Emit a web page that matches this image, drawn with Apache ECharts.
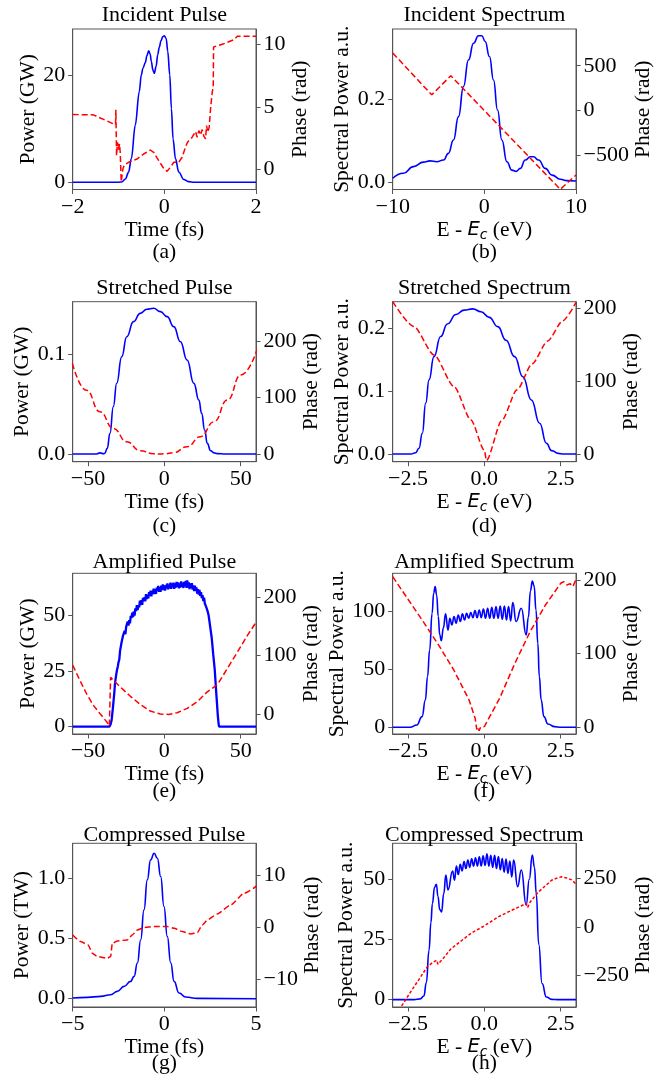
<!DOCTYPE html>
<html><head><meta charset="utf-8">
<script src="https://cdn.jsdelivr.net/npm/echarts@6/dist/echarts.min.js"></script>
<style>html,body{margin:0;padding:0;background:#fff;}#c{width:662px;height:1082px;}</style>
</head><body><div id="c"></div>
<script>
// ---------- (a) Incident Pulse ----------
const aPulseT = [-2, -1.0, -0.93, -0.85, -0.78, -0.72, -0.635, -0.547, -0.503, -0.467, -0.415, -0.38, -0.342, -0.31, -0.284, -0.25, -0.218, -0.18, -0.145, -0.11, -0.072, -0.035, 0, 0.04, 0.074, 0.118, 0.154, 0.19, 0.242, 0.315, 0.424, 0.534, 0.65, 2];
const aPulseP = [0, 0, 0.05, 0.6, 1.9, 4.4, 10.6, 16.9, 20, 21.25, 22.3, 23.6, 24.5, 23.9, 22.5, 20.9, 20.3, 21.6, 23.75, 25.2, 26.4, 27.1, 27.3, 26.8, 24.4, 20, 13.75, 8.1, 4.4, 1.9, 0.5, 0.1, 0, 0];
const aPhaseT = [-2, -1.547, -1.109, -1.065, -1.058, -1.043, -1.022, -1.0, -0.978, -0.963, -0.941, -0.905, -0.875, -0.78, -0.598, -0.452, -0.306, -0.233, -0.123, -0.014, 0.059, 0.132, 0.205, 0.315, 0.387, 0.461, 0.497, 0.534, 0.57, 0.607, 0.643, 0.68, 0.716, 0.753, 0.789, 0.826, 0.862, 0.899, 0.921, 0.95, 0.979, 1.008, 1.045, 1.067, 1.074, 1.3, 1.52, 1.593, 2.0];
const aPhaseV = [4.4, 4.37, 3.65, 3.6, 4.77, 1.12, 2.19, 1.6, 2.05, 1.39, -0.96, 0.05, 0.37, 0.59, 0.85, 1.25, 1.57, 1.39, 0.72, 0.11, -0.13, 0.19, 0.59, 0.59, 0.99, 1.79, 2.13, 2.32, 2.19, 2.59, 2.45, 3.04, 2.59, 3.12, 2.77, 3.2, 2.67, 2.45, 3.52, 2.99, 3.39, 4.85, 6.19, 6.59, 9.79, 10.05, 10.37, 10.64, 10.64];

// ---------- (b) Incident Spectrum ----------
const bSpecE = [-10, -8.83, -7.74, -6.65, -5.92, -5.19, -4.46, -3.92, -3.37, -2.82, -2.28, -1.73, -1.18, -0.64, -0.27, 0.09, 0.56, 1.0, 1.44, 1.91, 2.46, 3.0, 3.48, 3.92, 4.46, 5.01, 5.37, 5.92, 6.65, 7.38, 8.29, 9.02, 10];
const bSpecS = [0.0104, 0.0224, 0.0384, 0.049, 0.052, 0.050, 0.054, 0.070, 0.102, 0.158, 0.230, 0.294, 0.334, 0.352, 0.352, 0.338, 0.302, 0.246, 0.174, 0.102, 0.050, 0.030, 0.027, 0.034, 0.054, 0.062, 0.062, 0.054, 0.034, 0.018, 0.008, 0.0048, 0.004];
const bPhaseE = [-10, -5.74, -3.66, 8.29, 10];
const bPhaseV = [642, 175, 388, -880, -720];

// ---------- (c) Stretched Pulse ----------
const cPulseT = [-60, -45, -42, -40, -39, -37.4, -35.6, -33.4, -31.2, -27.9, -24.6, -20.2, -15.8, -11.4, -7, -2.6, 1.8, 6.2, 10.5, 14.9, 19.3, 22.6, 24.4, 26.4, 28.1, 30.3, 32.5, 34.7, 40, 60];
const cPulseP = [0, 0, 0.0012, 0.0003, 0.0007, 0.0057, 0.0207, 0.0475, 0.0709, 0.0977, 0.1177, 0.1328, 0.1411, 0.1452, 0.1462, 0.1428, 0.1378, 0.1278, 0.1127, 0.0943, 0.0709, 0.0542, 0.0408, 0.0241, 0.0107, 0.0033, 0.0012, 0.0004, 0, 0];
const cPhaseT = [-60.2, -51, -42.2, -33.4, -24.6, -15.8, -7, -3, 0, 6.2, 14.9, 23.7, 32.5, 41.3, 50.1, 60.7];
const cPhaseV = [160.5, 113, 75, 45.4, 21.8, 5.9, 0.5, 0, 0.3, 2.4, 13, 30.7, 57, 95.6, 140, 185];

// ---------- (d) Stretched Spectrum ----------
const dSpecE = [-3, -2.4, -2.25, -2.14, -2.03, -1.92, -1.81, -1.65, -1.43, -1.21, -0.93, -0.66, -0.38, -0.11, 0.16, 0.44, 0.71, 0.99, 1.26, 1.54, 1.81, 2.03, 2.2, 2.42, 2.6, 3];
const dSpecS = [0, 0, 0.002, 0.009, 0.033, 0.081, 0.118, 0.155, 0.187, 0.207, 0.222, 0.229, 0.231, 0.2265, 0.2175, 0.2027, 0.181, 0.155, 0.123, 0.086, 0.049, 0.017, 0.0053, 0.001, 0, 0];
const dPhaseE = [-3, -2.31, -1.65, -0.99, -0.44, 0.0, 0.07, 0.57, 1.07, 1.57, 2.07, 2.57, 3];
const dPhaseV = [209, 175, 136, 92.4, 46.7, 5, -9, 46, 88, 124, 155, 183, 208];

// ---------- (e) Amplified Pulse ----------
const ePulseT = [-60, -36, -35.2, -34.5, -33.9, -33.4, -32.8, -32.3, -31.5, -31, -30.5,
  -30, -29.5, -29, -28.5, -28, -27.5, -27, -26.5, -26, -25.5, -25, -24.5, -24, -23.5, -23, -22.5, -22, -21.5, -21, -20.5,
  -20, -19.5, -19, -18.5, -18, -17.5, -17, -16.5, -16, -15.5, -15, -14.5, -14, -13.5, -13, -12.5, -12, -11.5, -11, -10.5,
  -10, -9.5, -9, -8.5, -8, -7.5, -7, -6.5, -6, -5.5, -5, -4.5, -4, -3.5, -3, -2.5, -2, -1.5, -1, -0.5,
  0, 0.5, 1, 1.5, 2, 2.5, 3, 3.5, 4, 4.5, 5, 5.5, 6, 6.5, 7, 7.5, 8, 8.5, 9, 9.5,
  10, 10.5, 11, 11.5, 12, 12.5, 13, 13.5, 14, 14.5, 15, 15.5, 16, 16.5, 17, 17.5, 18, 18.5, 19, 19.5,
  20, 20.5, 21, 21.5, 22, 22.5, 23, 23.5, 24, 24.5, 25, 25.5, 26, 26.5, 27, 27.5, 28,
  28.5, 29, 30, 31, 32, 33, 34, 34.5, 35, 35.5, 35.8, 60];
const ePulseP = [0, 0, 1, 3, 7, 10.5, 15, 19.5, 23.5, 25.5, 27,
  29.0, 30.2, 34.1, 34.5, 38.0, 37.4, 41.1, 40.3, 43.1, 41.6, 44.9, 44.5, 47.3, 45.5, 47.9, 46.5, 49.9, 48.9, 51.3, 49.3,
  51.9, 50.0, 53.2, 52.0, 54.7, 52.4, 54.6, 53.7, 56.7, 54.7, 56.9, 54.8, 58.0, 56.5, 58.2, 56.4, 59.6, 57.4, 59.3, 57.7,
  60.5, 58.9, 61.2, 58.6, 61.2, 59.6, 62.05, 59.7, 61.8, 59.7, 62.6, 61.1, 63.3, 60.7, 62.8, 60.7, 63.4, 61.5, 64.0, 61.4,
  63.5, 61.2, 63.8, 62.3, 64.4, 61.8, 63.9, 62.25, 64.8, 61.95, 64.5, 62.75, 64.8, 61.95, 64.5, 62.55, 65.1, 62.92, 64.95, 62.28,
  64.4, 62.6, 65.4, 62.9, 64.8, 62.4, 65.1, 63.2, 65.6, 62.45, 65.8, 62.6, 64.9, 61.9, 64.4, 62.4, 64.6, 61.7, 63.6, 61.0,
  63.4, 61.1, 62.7, 59.9, 61.9, 59.4, 61.5, 58.8, 60.5, 57.8, 59.2, 56.5, 58.0, 55.4, 55.9, 53.7, 53.3,
  51.5, 50, 45, 40, 32.5, 25.5, 15, 10, 5, 1.5, 0, 0];
const ePhaseT = [-60, -55.4, -51, -46.6, -42.2, -37.8, -36, -35.2, -29, -22.4, -15.8, -9.2, -2.6, 2.9, 8.4, 15, 21.5, 28.1, 34.7, 41.3, 47.9, 54.5, 60.2];
const ePhaseV = [83.5, 58, 35, 15.3, 1, -13, -20.5, 62.5, 46.6, 30.7, 16.5, 5.1, 0, -0.6, 2.3, 9.7, 21, 38, 50, 78, 106, 134.7, 157];

// ---------- (f) Amplified Spectrum ----------
const fSpecE = [-3, -2.43, -2.21, -2.04, -1.93, -1.86, -1.79, -1.71, -1.66, -1.61, -1.56, -1.51, -1.46, -1.41, -1.34, -1.27, -1.19,
  -1.13, -1.061, -0.992, -0.924, -0.855, -0.786, -0.718, -0.649, -0.580, -0.512, -0.443, -0.374, -0.306, -0.237, -0.168, -0.100,
  -0.031, 0.038, 0.107, 0.175, 0.244, 0.313, 0.381, 0.450, 0.519, 0.587, 0.656, 0.725, 0.793, 0.862, 0.931,
  1.04, 1.21, 1.37, 1.44, 1.51, 1.57, 1.63, 1.69, 1.75, 1.80, 1.86, 1.95, 2.08, 2.30, 2.5, 3];
const fSpecS = [0, 0, 2, 9.2, 23.6, 43.8, 66.9, 98.6, 115.9, 121.6, 114, 96, 80, 74.9, 86, 98, 84,
  94.2, 88.5, 95.7, 90, 97.1, 91.4, 98, 92.8, 98.6, 94.2, 99.1, 94.8, 100.9, 94.8, 101.4, 94.8,
  102.3, 94.2, 102.9, 94.2, 103.7, 94.2, 104.3, 94.2, 104.9, 93.4, 104.9, 92.8, 104.3, 91.9, 107.8,
  91.4, 102.9, 79.8, 95, 118, 126.5, 122, 101.4, 72.6, 43.8, 23.6, 9.2, 2.9, 0.6, 0, 0];
const fPhaseE = [-3.0, -2.5, -2.0, -1.5, -1.0, -0.5, -0.3, -0.25, -0.21, -0.17, -0.12, -0.08, 0.0, 0.5, 1.0, 1.5, 2.0, 2.5, 2.6, 2.7, 2.8, 2.9, 3.0];
const fPhaseV = [204.5, 173.8, 143.4, 111.8, 77.8, 37.1, 12, -2.7, 0.5, -4.5, 0.5, -2, 1, 39.4, 86.9, 129.9, 166, 195.5, 197.7, 193, 195, 191, 201];

// ---------- (g) Compressed Pulse ----------
const gPulseT = [-5, -4.2, -3.47, -2.93, -2.56, -2.2, -1.84, -1.65, -1.47, -1.29, -1.11, -0.93, -0.75, -0.56, -0.38, -0.2, -0.02, 0.16, 0.35, 0.53, 0.8, 1.16, 1.8, 5];
const gPulseP = [0.0055, 0.011, 0.019, 0.033, 0.061, 0.102, 0.144, 0.185, 0.296, 0.489, 0.738, 0.986, 1.152, 1.207, 1.166, 1.014, 0.765, 0.517, 0.296, 0.144, 0.047, 0.014, 0.003, 0];
const gPhaseT = [-5, -4.56, -4.16, -3.93, -3.65, -3.11, -2.93, -2.84, -2.56, -2.02, -1.75, -1.47, -1.11, -0.56, 0.16, 0.53, 0.98, 1.44, 1.8, 2.07, 2.35, 2.89, 3.62, 4.35, 5.04];
const gPhaseV = [-1.46, -2.73, -3.37, -4.95, -5.59, -5.9, -5.59, -3.05, -2.6, -2.41, -1.46, -0.51, -0.06, 0.13, 0.13, -0.19, -0.83, -1.27, -1.02, 0.44, 1.4, 2.54, 4.25, 6.48, 7.87];

// ---------- (h) Compressed Spectrum ----------
const hSpecE = [-3, -2.3, -2.1, -1.98, -1.9, -1.81, -1.75, -1.70, -1.63, -1.57, -1.52, -1.46, -1.40, -1.33, -1.26, -1.19,
  -1.04, -0.978, -0.915, -0.853, -0.79, -0.728, -0.665, -0.603, -0.54, -0.478, -0.415, -0.353, -0.29, -0.228, -0.165, -0.103,
  -0.04, 0.023, 0.085, 0.148, 0.21, 0.273, 0.335, 0.398, 0.46, 0.523, 0.585, 0.648, 0.71, 0.773, 0.835, 0.898, 0.96,
  1.09, 1.21, 1.37, 1.47, 1.57, 1.64, 1.70, 1.78, 1.89, 2.03, 2.2, 2.4, 3];
const hSpecS = [0, 0, 0.3, 1.5, 7, 20.5, 32, 40, 46.7, 48, 43, 37.5, 36.5, 44, 51.8, 45.6,
  53.5, 49.7, 55.5, 52, 56.3, 53.5, 57.4, 54.5, 58, 55, 58.6, 55.5, 59, 55.6, 59.4, 55.6,
  59.8, 55.8, 60.6, 55.5, 60, 55, 60, 54.5, 59.5, 54, 58.7, 53, 58.5, 52.5, 57.6, 51, 58,
  47, 53.9, 39.3, 50, 60.1, 55, 44, 23, 6.7, 1.1, 0.1, 0, 0];
const hPhaseE = [-2.8, -2.66, -2.43, -2.1, -1.87, -1.7, -1.56, -1.52, -1.47, -1.33, -1.1, -0.8, -0.44, 0, 0.44, 0.8, 1.1, 1.37, 1.42, 1.5, 1.76, 2.0, 2.2, 2.4, 2.53, 2.7, 2.86, 3.04];
const hPhaseV = [-430, -397, -340, -262, -207, -185, -172, -193, -183, -160, -115, -78, -34, 5, 50, 78, 100, 120, 100, 128, 178, 212, 240, 253, 258, 252, 242, 215];

// ---------- tick labels ----------
const xTicksPulseA = [-2, 0, 2], xTicksSpecB = [-10, 0, 10], xTicksPulseCE = [-50, 0, 50], xTicksSpec = [-2.5, 0, 2.5], xTicksPulseG = [-5, 0, 5];
const yTicks = {
  a: [[0, 20], [0, 5, 10]], b: [[0, 0.2], [-500, 0, 500]], c: [[0, 0.1], [0, 100, 200]], d: [[0, 0.1, 0.2], [0, 100, 200]],
  e: [[0, 25, 50], [0, 100, 200]], f: [[0, 50, 100], [0, 100, 200]], g: [[0, 0.5, 1.0], [-10, 0, 10]], h: [[0, 25, 50], [-250, 0, 250]]
};

const SERIF = 'Liberation Serif';
const SPINE = '#555555';
const TICK_FS = 22, NAME_FS = 21.5, TITLE_FS = 22;
const pairs = (xs, ys) => xs.map((x, i) => [x, ys[i]]);
const fmt = d => v => Number(v).toFixed(d).replace('-', '\u2212');
const COLX = [72.7, 392.7], W = 183.3;
const ROWS = [{top: 29, h: 160.5, xg: 27.7}, {top: 301.7, h: 160, xg: 28.8}, {top: 573.3, h: 160.7, xg: 28.2}, {top: 843.3, h: 163.7, xg: 29.5}];
const EC_NAME = '{n|E - }{i|E}{s|c}{n| (eV)}';
const EC_RICH = {
  n: {fontFamily: SERIF, fontSize: NAME_FS, color: '#000', lineHeight: 24, verticalAlign: 'middle'},
  i: {fontFamily: 'DejaVu Sans', fontStyle: 'italic', fontSize: 19.5, color: '#000', lineHeight: 24, verticalAlign: 'middle'},
  s: {fontFamily: 'DejaVu Sans', fontStyle: 'italic', fontSize: 14, color: '#000', lineHeight: 10, verticalAlign: 'bottom'}
};

const panels = [
  {col: 0, row: 0, key: 'a', title: 'Incident Pulse', cap: '(a)', x: [-2, 2], xt: xTicksPulseA, xd: 0, spec: false, yl: [-1.36, 28.56], yld: 0, yln: 'Power (GW)', ylg: 33.3, yr: [-1.58, 11.22], yrd: 0, yrg: 28.5, blue: pairs(aPulseT, aPulseP), red: pairs(aPhaseT, aPhaseV), bs: 0.35, rs: 0, bw: 1.6},
  {col: 1, row: 0, key: 'b', title: 'Incident Spectrum', cap: '(b)', x: [-10, 10], xt: xTicksSpecB, xd: 0, spec: true, yl: [-0.0165, 0.368], yld: 1, yln: 'Spectral Power a.u.', ylg: 39.1, yr: [-882, 910], yrd: 0, yrg: 52.2, blue: pairs(bSpecE, bSpecS), red: pairs(bPhaseE, bPhaseV), bs: 0.5, rs: 0, bw: 1.6},
  {col: 0, row: 1, key: 'c', title: 'Stretched Pulse', cap: '(c)', x: [-60, 60], xt: xTicksPulseCE, xd: 0, spec: false, yl: [-0.0077, 0.1528], yld: 1, yln: 'Power (GW)', ylg: 39, yr: [-13.6, 269.6], yrd: 0, yrg: 41, blue: pairs(cPulseT, cPulseP), red: pairs(cPhaseT, cPhaseV), bs: 0.5, rs: 0.5, bw: 1.6},
  {col: 1, row: 1, key: 'd', title: 'Stretched Spectrum', cap: '(d)', x: [-3, 3], xt: xTicksSpec, xd: 1, spec: true, yl: [-0.0123, 0.2424], yld: 1, yln: 'Spectral Power a.u.', ylg: 39.1, yr: [-10.6, 209], yrd: 0, yrg: 39.8, blue: pairs(dSpecE, dSpecS), red: pairs(dPhaseE, dPhaseV), bs: 0.5, rs: 0.25, bw: 1.6},
  {col: 0, row: 2, key: 'e', title: 'Amplified Pulse', cap: '(e)', x: [-60, 60], xt: xTicksPulseCE, xd: 0, spec: false, yl: [-3.3, 69], yld: 0, yln: 'Power (GW)', ylg: 33.3, yr: [-34, 240], yrd: 0, yrg: 41, blue: pairs(ePulseT, ePulseP), red: pairs(ePhaseT, ePhaseV), bs: 0, rs: 0, bw: 2.3},
  {col: 1, row: 2, key: 'f', title: 'Amplified Spectrum', cap: '(f)', x: [-3, 3], xt: xTicksSpec, xd: 1, spec: true, yl: [-5.8, 133.1], yld: 0, yln: 'Spectral Power a.u.', ylg: 39.1, yr: [-9.05, 209], yrd: 0, yrg: 39.8, blue: pairs(fSpecE, fSpecS), red: pairs(fPhaseE, fPhaseV), bs: 0.5, rs: 0, bw: 1.6},
  {col: 0, row: 3, key: 'g', title: 'Compressed Pulse', cap: '(g)', x: [-5, 5], xt: xTicksPulseG, xd: 0, spec: false, yl: [-0.069, 1.29], yld: 1, yln: 'Power (TW)', ylg: 37.3, yr: [-15.2, 16], yrd: 0, yrg: 41.9, blue: pairs(gPulseT, gPulseP), red: pairs(gPhaseT, gPhaseV), bs: 0.5, rs: 0.2, bw: 1.6},
  {col: 1, row: 3, key: 'h', title: 'Compressed Spectrum', cap: '(h)', x: [-3, 3], xt: xTicksSpec, xd: 1, spec: true, yl: [-3.06, 65], yld: 0, yln: 'Spectral Power a.u.', ylg: 35.2, yr: [-414, 431], yrd: 0, yrg: 52.2, blue: pairs(hSpecE, hSpecS), red: pairs(hPhaseE, hPhaseV), bs: 0.5, rs: 0, bw: 1.6}
];
const titleY = [4.5, 277, 551.2, 824.5];
const capY = [241.8, 515, 780.8, 1052.5];

const grid = [], xAxis = [], yAxis = [], series = [], graphic = [];
const tickStyle = {show: true, length: 4.5, inside: false, lineStyle: {color: SPINE, width: 1}};
const lineAx = {show: true, onZero: false, lineStyle: {color: SPINE, width: 1}};
const lab = (d, vals, m) => ({show: true, customValues: vals, formatter: fmt(d), fontFamily: SERIF, fontSize: TICK_FS, color: '#000', margin: m, hideOverlap: false});
const nameStyle = {fontFamily: SERIF, fontSize: NAME_FS, color: '#000'};

panels.forEach((p, i) => {
  const r = ROWS[p.row];
  const left = COLX[p.col];
  grid.push({left: left, top: r.top, width: W, height: r.h, show: true, borderColor: SPINE, borderWidth: 1, backgroundColor: 'transparent', containLabel: false});
  xAxis.push({
    type: 'value', gridIndex: i, min: p.x[0], max: p.x[1], position: 'bottom',
    axisLine: lineAx, axisTick: Object.assign({customValues: p.xt}, tickStyle), axisLabel: lab(p.xd, p.xt, 6.5),
    splitLine: {show: false},
    name: p.spec ? EC_NAME : 'Time (fs)', nameLocation: 'middle', nameGap: p.spec ? r.xg - 1.3 : r.xg,
    nameTextStyle: p.spec ? {rich: EC_RICH} : nameStyle
  });
  const yt = yTicks[p.key];
  yAxis.push({
    type: 'value', gridIndex: i, position: 'left', min: p.yl[0], max: p.yl[1],
    axisLine: lineAx, axisTick: Object.assign({customValues: yt[0]}, tickStyle), axisLabel: lab(p.yld, yt[0], 7.5),
    splitLine: {show: false},
    name: p.yln, nameLocation: 'middle', nameRotate: 90, nameGap: p.ylg, nameTextStyle: nameStyle
  });
  yAxis.push({
    type: 'value', gridIndex: i, position: 'right', min: p.yr[0], max: p.yr[1],
    axisLine: lineAx, axisTick: Object.assign({customValues: yt[1]}, tickStyle), axisLabel: lab(p.yrd, yt[1], 7.5),
    splitLine: {show: false},
    name: 'Phase (rad)', nameLocation: 'middle', nameRotate: 90, nameGap: p.yrg, nameTextStyle: nameStyle
  });
  series.push({
    type: 'line', xAxisIndex: i, yAxisIndex: 2 * i, data: p.blue, symbol: 'none', showSymbol: false,
    smooth: p.bs, smoothMonotone: 'x', clip: true, z: 3, animation: false,
    lineStyle: {color: '#0000ff', width: p.bw}
  });
  series.push({
    type: 'line', xAxisIndex: i, yAxisIndex: 2 * i + 1, data: p.red, symbol: 'none', showSymbol: false,
    smooth: p.rs, smoothMonotone: 'x', clip: true, z: 4, animation: false,
    lineStyle: {color: '#ff0000', width: 1.5, type: p.key === 'h' ? [3, 2] : [6, 3]}
  });
  const cx = left + W / 2;
  graphic.push({type: 'text', x: cx, y: titleY[p.row], style: {text: p.title, fill: '#000', font: TITLE_FS + 'px "Liberation Serif"', textAlign: 'center', textVerticalAlign: 'top'}});
  graphic.push({type: 'text', x: cx, y: capY[p.row], style: {text: p.cap, fill: '#000', font: NAME_FS + 'px "Liberation Serif"', textAlign: 'center', textVerticalAlign: 'top'}});
});

const chart = echarts.init(document.getElementById('c'), null, {renderer: 'canvas'});
chart.setOption({animation: false, backgroundColor: '#ffffff', grid, xAxis, yAxis, series, graphic});
</script></body></html>
